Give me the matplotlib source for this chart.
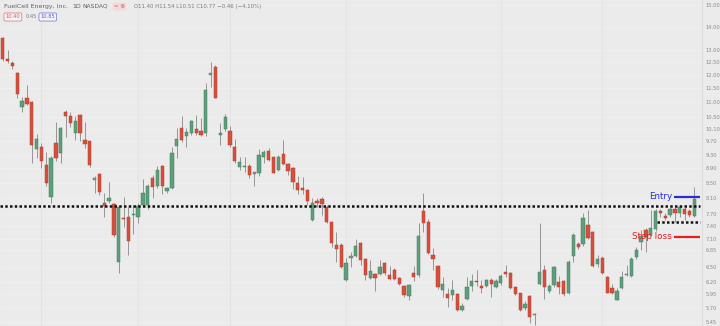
import matplotlib
matplotlib.use("Agg")
import matplotlib.pyplot as plt
import numpy as np

# ---- data (FuelCell Energy daily candles) ----
opens = [13.48,12.63,12.45,12.06,10.84,11.13,11.00,9.46,9.52,9.00,
         8.13,9.64,9.34,10.64,10.53,9.97,10.55,9.75,9.70,8.58,
         8.74,7.98,8.01,7.95,6.60,7.60,7.63,7.67,7.63,7.92,
         7.92,8.64,8.41,8.98,8.29,8.37,9.57,10.11,9.87,9.97,
         10.09,10.02,9.95,12.00,12.32,9.89,10.08,10.03,9.54,8.95,
         8.93,8.96,8.75,8.78,9.22,9.41,9.22,8.85,9.32,9.03,
         8.92,8.49,8.37,8.31,7.55,8.03,8.07,7.87,7.51,6.97,
         6.97,6.24,6.69,6.73,7.01,6.66,6.28,6.36,6.35,6.57,
         6.33,6.43,6.28,6.11,5.92,6.38,6.33,7.77,7.49,6.75,
         6.52,6.04,5.96,5.94,5.96,5.67,5.86,6.11,6.22,6.12,
         6.11,6.24,6.10,6.18,6.40,6.38,6.09,5.97,5.69,5.92,
         5.58,6.16,6.44,6.02,6.13,6.20,6.22,5.97,6.73,6.99,
         6.99,7.43,7.27,6.56,6.69,6.30,6.07,5.85,6.07,6.33,
         6.31,6.70,7.03,7.31,7.19,7.33,7.77,7.65,7.67,7.81,
         7.72,7.83,7.77,7.65]
highs = [13.56,12.99,12.55,12.12,11.19,11.62,11.04,9.92,9.64,9.39,
         9.26,10.33,10.15,10.71,10.67,10.53,10.59,10.33,9.72,8.69,
         8.77,8.23,8.53,7.98,7.89,8.13,7.87,7.92,7.96,8.60,
         8.47,8.71,8.97,9.00,8.40,9.54,10.11,10.53,10.11,10.39,
         10.56,10.45,11.68,12.51,12.38,10.30,10.58,10.19,9.77,9.22,
         9.24,9.03,8.80,9.46,9.44,9.49,9.26,9.29,9.73,9.06,
         8.95,8.68,8.66,8.33,8.09,8.11,8.13,7.92,7.53,7.27,
         7.02,6.68,6.82,7.10,7.04,6.68,6.64,6.38,6.64,6.60,
         6.52,6.47,6.30,6.13,6.16,6.52,7.47,8.23,7.57,6.90,
         6.54,6.30,6.07,6.24,5.98,5.79,6.30,6.36,6.44,6.23,
         6.26,6.27,6.26,6.36,6.54,6.39,6.11,5.98,5.82,5.94,
         5.61,7.47,6.54,6.16,6.52,6.31,6.24,6.64,7.23,7.04,
         7.72,7.79,7.29,6.75,6.73,6.31,6.16,6.07,6.42,6.54,
         6.70,6.92,7.31,7.35,7.79,7.81,7.83,7.71,7.86,7.87,
         7.89,7.87,7.81,8.40]
lows = [12.55,12.46,12.22,11.13,10.67,10.90,9.05,9.19,8.90,8.41,
        7.96,9.12,9.06,9.83,10.17,9.75,9.70,9.49,8.93,8.22,
        8.17,7.62,7.96,7.15,6.38,7.39,6.75,7.21,7.47,7.87,
        7.83,8.09,8.35,8.20,8.23,8.33,9.21,9.67,9.52,9.90,
        9.90,9.87,9.87,11.56,11.13,9.59,10.04,9.52,9.06,8.85,
        8.80,8.62,8.41,8.68,9.05,9.12,8.76,8.83,9.00,8.71,
        8.33,8.20,8.20,7.92,7.53,7.87,7.67,7.48,6.93,6.60,
        6.47,6.22,6.50,6.71,6.54,6.24,6.26,6.01,6.33,6.33,
        6.24,6.24,6.13,5.91,5.85,6.22,6.30,7.27,6.77,6.44,
        6.05,5.90,5.72,5.85,5.65,5.65,5.84,6.01,6.11,5.97,
        6.09,5.91,6.07,6.13,6.30,6.05,5.94,5.65,5.67,5.43,
        5.39,6.13,5.86,5.98,6.09,5.96,5.92,5.96,6.60,6.88,
        6.95,7.10,6.49,6.50,6.35,5.97,5.96,5.84,6.05,6.31,
        6.30,6.66,6.86,6.82,7.17,7.29,7.63,7.55,7.62,7.51,
        7.63,7.55,7.63,7.63]
closes = [12.61,12.54,12.35,11.28,11.04,10.93,9.59,9.78,9.11,8.49,
          9.21,9.19,10.11,10.53,10.28,10.36,9.97,9.62,9.00,8.60,
          8.26,7.89,8.11,7.19,7.86,7.57,7.06,7.69,7.89,8.22,
          8.42,8.40,8.85,8.41,8.35,9.34,9.77,9.75,10.01,10.36,
          9.95,9.90,11.43,12.02,11.15,9.97,10.50,9.59,9.12,9.07,
          8.98,8.71,8.76,9.28,9.37,9.14,8.77,9.24,9.03,8.83,
          8.53,8.31,8.31,8.01,7.96,7.98,7.95,7.51,7.02,6.88,
          6.49,6.57,6.71,6.95,6.64,6.33,6.42,6.28,6.49,6.38,
          6.26,6.26,6.16,5.94,6.14,6.29,7.17,7.47,6.80,6.66,
          6.10,6.15,5.88,6.04,5.67,5.73,6.10,6.21,6.19,6.08,
          6.23,6.16,6.21,6.31,6.36,6.07,5.96,5.67,5.77,5.54,
          5.57,6.40,6.10,6.11,6.49,6.09,5.96,6.60,7.19,6.92,
          7.59,7.12,6.52,6.66,6.38,5.98,5.97,6.02,6.30,6.34,
          6.66,6.86,7.17,7.15,7.35,7.77,7.72,7.60,7.81,7.71,
          7.86,7.69,7.67,8.07]

price_ticks = [15.00, 14.00, 13.00, 12.50, 12.00, 11.50, 11.00, 10.50, 10.10,
               9.70, 9.30, 8.90, 8.50, 8.10, 7.70, 7.40, 7.10, 6.85, 6.50,
               6.20, 5.95, 5.70, 5.45]

breakout_level = 7.89
consolidation_low = 7.50
entry_level = 8.13
stop_level = 7.16
month_starts = [8, 28, 47, 71, 103, 124]

# ---- figure ----
W, H = 720, 326
fig = plt.figure(figsize=(W / 100, H / 100), dpi=100)
bg = "#ebebeb"
fig.patch.set_facecolor(bg)
ax = fig.add_axes([0, 0, 702 / W, 1])
ax.set_facecolor(bg)
ax.set_yscale("log")
ax.set_ylim(5.38, 15.24)
ax.set_xlim(-0.56, 144.6)

for s in ["top", "left", "bottom"]:
    ax.spines[s].set_visible(False)
ax.spines["right"].set_color("#d8d8d8")
ax.spines["right"].set_linewidth(0.6)

ax.yaxis.tick_right()
ax.set_yticks(price_ticks)
ax.set_yticklabels([f"{v:.2f}" for v in price_ticks])
ax.yaxis.set_minor_locator(matplotlib.ticker.NullLocator())
ax.tick_params(axis="y", length=0, pad=2.5, labelsize=3.7, labelcolor="#8a8a8a")
ax.set_xticks([])
for v in price_ticks:
    ax.axhline(v, color="#f1f1f1", lw=0.5, zorder=0)
for m in month_starts:
    ax.axvline(m, color="#e2e2e2", lw=0.6, zorder=0)

red, red_edge = "#d4503e", "#b63c2d"
green, green_edge = "#5e9e7c", "#437f5f"
grey = "#8d8d8d"
idx = np.arange(len(opens))
for i, o, h, l, c in zip(idx, opens, highs, lows, closes):
    ax.vlines(i, l, h, color="#959595", lw=0.7, zorder=2)
    lo, hi = min(o, c), max(o, c)
    hgt = max(hi - lo, lo * 0.0045)
    if abs(c - o) <= 0.02:
        fc, ec = grey, "#777777"
    elif c > o:
        fc, ec = green, green_edge
    else:
        fc, ec = red, red_edge
    ax.bar(i, hgt, bottom=lo, width=0.68, color=fc, edgecolor=ec, lw=0.35, zorder=3)

# breakout level and consolidation low
ax.plot([-0.56, 144.2], [breakout_level] * 2, color="#111111", lw=1.8,
        linestyle=(0, (1, 0.9)), dash_capstyle="butt", zorder=4)
ax.plot([135.3, 144.2], [consolidation_low] * 2, color="#111111", lw=1.8,
        linestyle=(0, (1, 0.9)), dash_capstyle="butt", zorder=4)

# entry / stop loss marks
ax.plot([138.8, 144.2], [entry_level] * 2, color="#2a2adf", lw=1.6, zorder=5,
        solid_capstyle="butt")
ax.plot([138.8, 144.2], [stop_level] * 2, color="#e42020", lw=1.6, zorder=5,
        solid_capstyle="butt")
ax.text(138.4, entry_level, "Entry", color="#2a2adf", fontsize=6.3,
        ha="right", va="center", zorder=6)
ax.text(138.3, stop_level, "Stop loss", color="#e42020", fontsize=6.3,
        ha="right", va="center", zorder=6)

# ---- header ----
def ftxt(x, y, s, **kw):
    fig.text(x / W, 1 - y / H, s, va="center", ha="left", **kw)

hc = "#5f5f5f"
ftxt(4, 6.5, "FuelCell Energy, Inc.", fontsize=4.5, color=hc)
ftxt(72, 6.5, "1D", fontsize=4.5, color=hc)
ftxt(82, 6.5, "NASDAQ", fontsize=4.3, color=hc)
ftxt(114, 6.5, "= \u2297", fontsize=4.0, color="#d66a6a",
     bbox=dict(boxstyle="round,pad=0.25", fc="#f3d9d9", ec="none"))
ftxt(134, 6.5, "O11.40 H11.54 L10.51 C10.77 \u22120.46 (\u22124.10%)",
     fontsize=3.9, color="#7a7a7a")
ftxt(5.5, 17, "10.40", fontsize=3.7, color="#d65a5a",
     bbox=dict(boxstyle="round,pad=0.3", fc="#f4f4f4", ec="#e07070", lw=0.5))
ftxt(26, 17, "0.45", fontsize=3.7, color="#7a7a7a")
ftxt(40.5, 17, "10.85", fontsize=3.7, color="#5a5ad6",
     bbox=dict(boxstyle="round,pad=0.3", fc="#f4f4f4", ec="#7070e0", lw=0.5))

fig.savefig("out.png", dpi=100, facecolor=bg)
